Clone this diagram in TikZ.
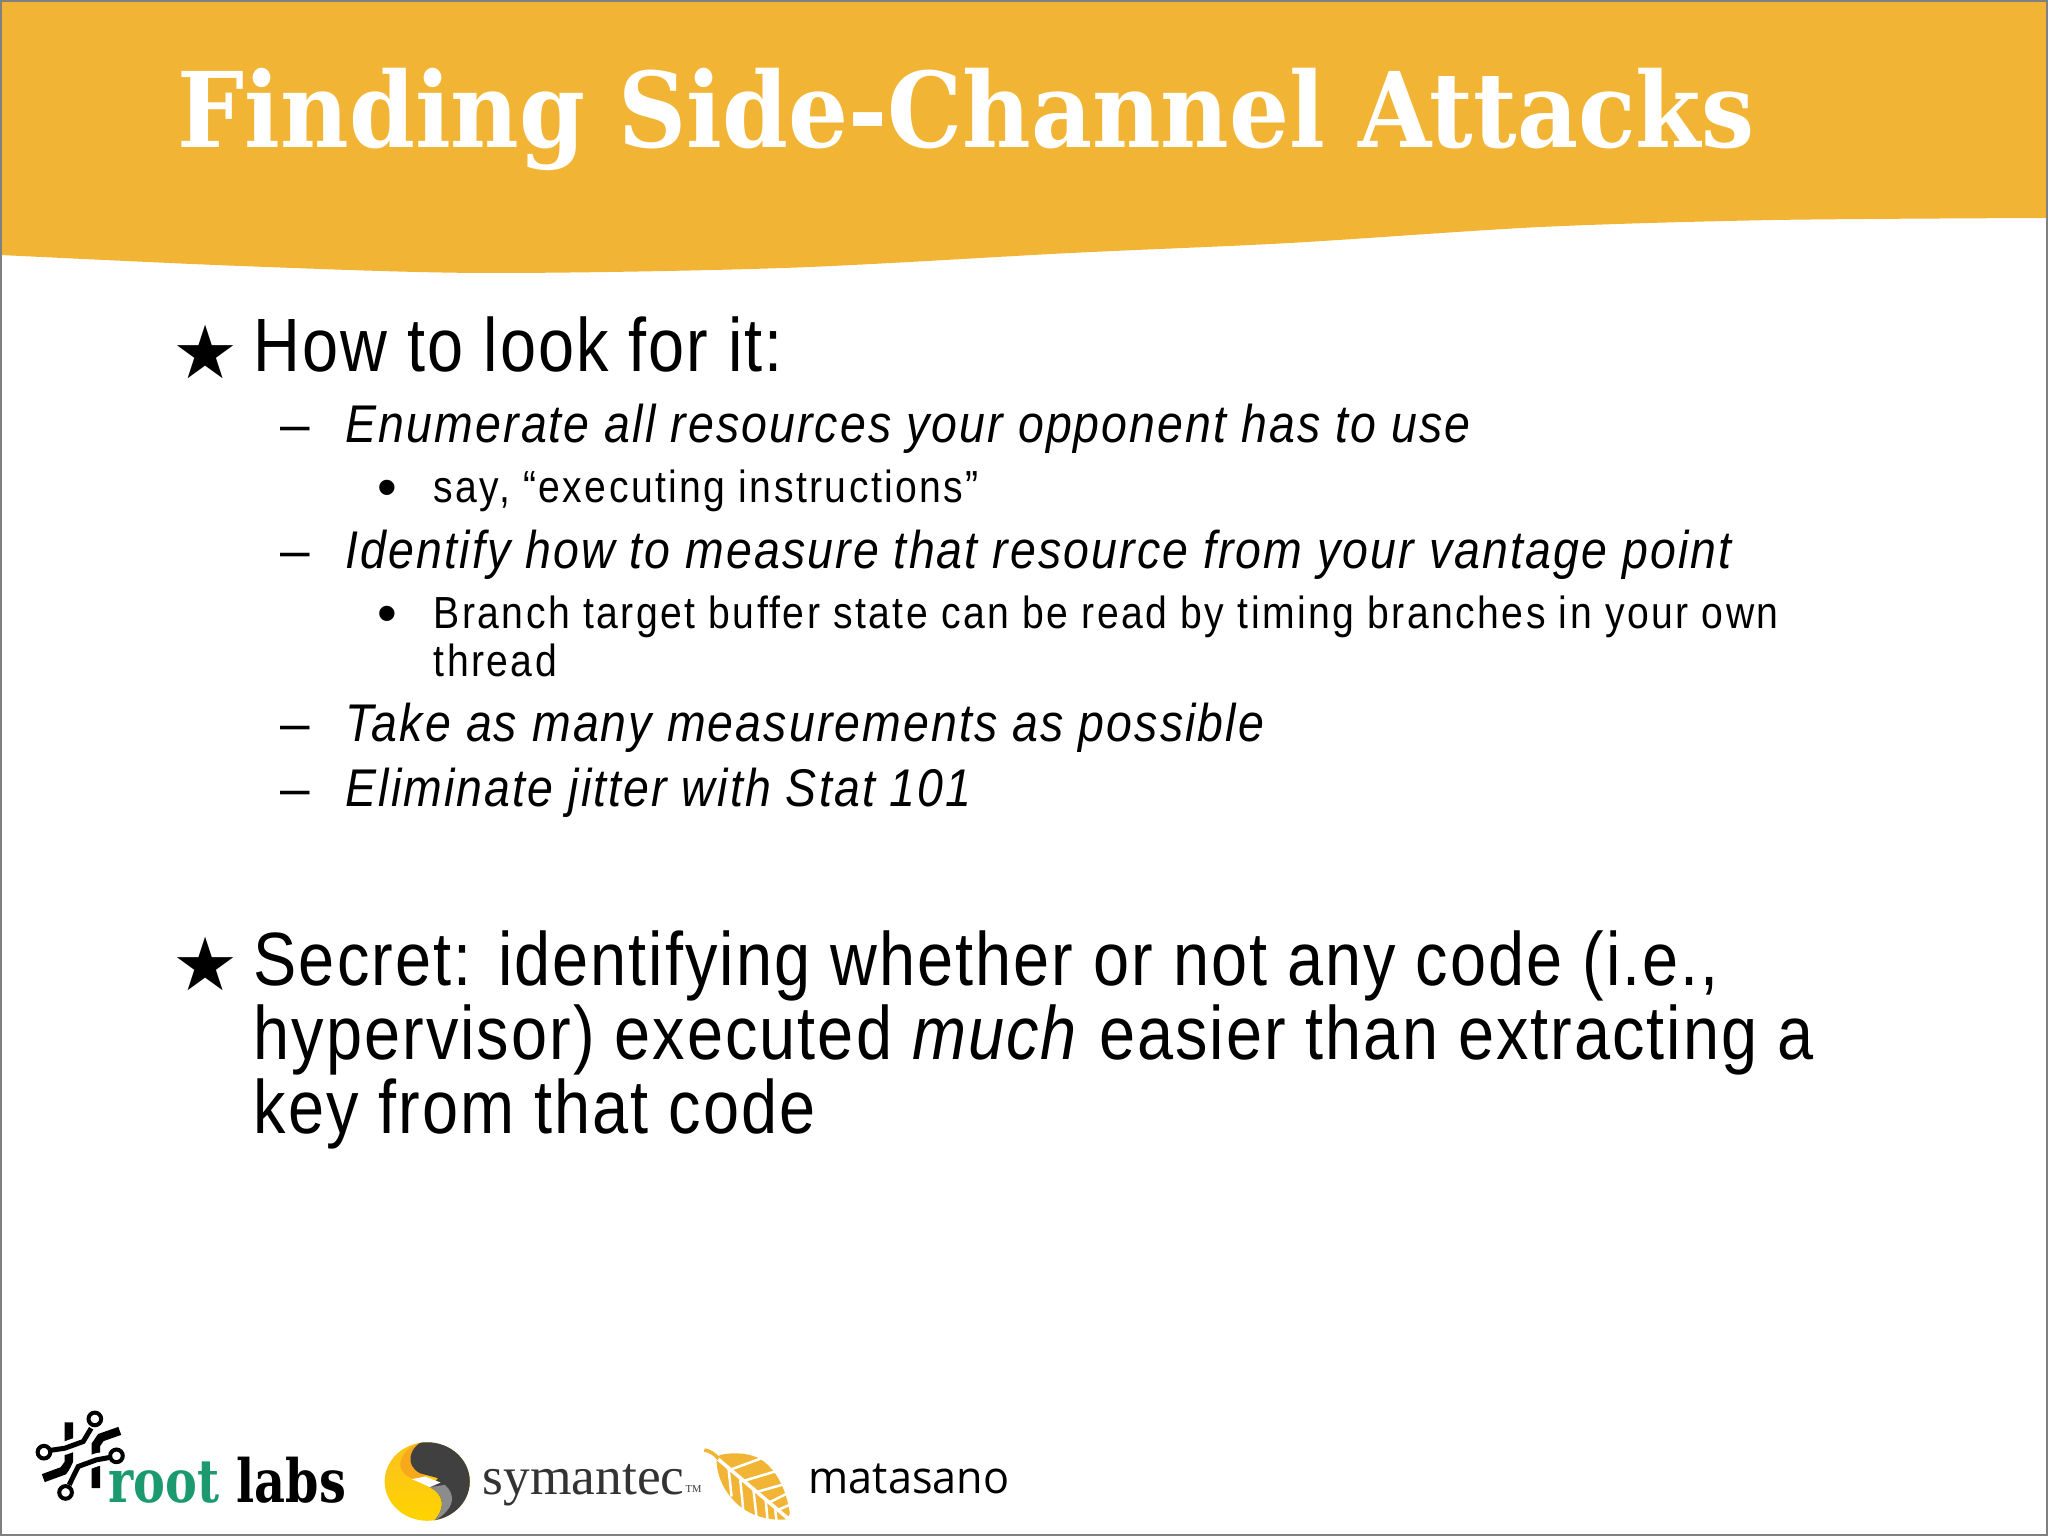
\documentclass[tikz,border=0pt]{standalone}
\usepackage{fontspec}
\setmainfont{Liberation Sans}
\newfontfamily\bigfont[FakeStretch=.858,LetterSpace=2.7]{Liberation Sans}
\newfontfamily\midfont[FakeStretch=.875,LetterSpace=4]{Liberation Sans}
\newfontfamily\smallfont[FakeStretch=.87,LetterSpace=5.4]{Liberation Sans}
\newfontfamily\titlefont[FakeStretch=.904]{DejaVu Serif Bold}
\newfontfamily\starfont{DejaVu Sans}
\newfontfamily\labsfont[FakeStretch=.8]{DejaVu Serif Bold}
\newfontfamily\symfont{Liberation Serif}
\newfontfamily\matafont[FakeStretch=.96]{Open Sans}
\definecolor{bandcol}{HTML}{F1B434}
\definecolor{labgreen}{HTML}{1A9A6E}
\definecolor{symtop}{HTML}{FBC020}
\definecolor{symmid}{HTML}{FFEA00}
\definecolor{symlow}{HTML}{FFD400}
\definecolor{symblob}{HTML}{F7A81B}
\tikzset{
	line/.style={anchor=base west, inner sep=0pt, align=left},
	bigline/.style={line, font=\bigfont\fontsize{21.5}{21}\selectfont},
	midline/.style={line, font=\midfont\fontsize{15.1}{15}\selectfont\itshape},
	smallline/.style={line, font=\smallfont\fontsize{12.8}{13.6}\selectfont},
	starmark/.style={inner sep=0pt, font=\starfont\fontsize{21}{21}\selectfont},
	dashmark/.style={anchor=base west, inner sep=0pt, font=\fontsize{15.1}{15}\selectfont},
	dotmark/.style={anchor=base, inner sep=0pt, font=\fontsize{16}{16}\selectfont},
	bar/.style={black, line width=.85mm},
	halo/.style={white, line width=1.3mm},
	trace/.style={black, line width=.5mm},
	pad/.style={black, line width=.4mm, fill=white},
}
\begin{document}
\begin{tikzpicture}
	\useasboundingbox (0,0) rectangle (20.48,15.36);
	% band
	\fill[bandcol] (0,15.36) -- (20.48,15.36) -- plot[smooth, tension=.5] coordinates {(20.48,13.18) (17.76,13.16) (15.41,13.09) (12.9,12.93) (10.71,12.83) (7.84,12.68) (4.83,12.63) (2.4,12.7) (0,12.81)} -- cycle;
	\draw[gray, line width=.4mm] (0,0) rectangle (20.48,15.36);
	\node[anchor=base west, inner sep=0pt, white, font=\titlefont\fontsize{29.7}{30}\selectfont] (title) at (1.77,13.88) {Finding Side-Channel Attacks};

	% first block
	\node[starmark] (star1) at (2.06,11.84) {★};
	\node[bigline] (howto) at (2.53,11.64) {How to look for it:};
	\node[dashmark] (dash1) at (2.8,10.93) {--};
	\node[midline] (enumerate) at (3.45,10.93) {Enumerate all resources your opponent has to use};
	\node[dotmark] (dot1) at (3.87,10.29) {•};
	\node[smallline] (say) at (4.33,10.33) {say, “executing instructions”};
	\node[dashmark] (dash2) at (2.8,9.67) {--};
	\node[midline] (identify) at (3.45,9.67) {Identify how to measure that resource from your vantage point};
	\node[dotmark] (dot2) at (3.87,9.03) {•};
	\node[smallline] (branch) at (4.33,9.07) {Branch target buffer state can be read by timing branches in your own};
	\node[smallline] (thread) at (4.33,8.59) {thread};
	\node[dashmark] (dash3) at (2.8,7.94) {--};
	\node[midline] (take) at (3.45,7.94) {Take as many measurements as possible};
	\node[dashmark] (dash4) at (2.8,7.29) {--};
	\node[midline] (eliminate) at (3.45,7.29) {Eliminate jitter with Stat 101};

	% second block
	\node[starmark] (star2) at (2.06,5.72) {★};
	\node[bigline] (secret) at (2.53,5.5) {Secret: identifying whether or not any code (i.e.,};
	\node[bigline] (hyper) at (2.53,4.76) {hypervisor) executed \textit{much} easier than extracting a};
	\node[bigline] (key) at (2.53,4.02) {key from that code};

	% root labs logo
	\begin{scope}[shift={(.2,1.41)}, x=.00333cm, y=-.00333cm]
		\draw[bar] (147,82) -- (147,205) -- (130,228) -- (70,250);
		\draw[bar] (300,108) -- (243,128) -- (228,150) -- (228,280);
		\draw[halo] (90,167) -- (135,160) -- (190,140) -- (212,100);
		\draw[halo] (272,187) -- (230,195) -- (175,215) -- (150,268);
		\draw[trace] (88,167) -- (135,160) -- (190,140) -- (214,100);
		\draw[trace] (274,187) -- (230,195) -- (175,215) -- (148,270);
		\draw[pad] (72,172) circle (19);
		\draw[pad] (225,72) circle (19);
		\draw[pad] (290,183) circle (19);
		\draw[pad] (137,293) circle (19);
	\end{scope}
	\node[anchor=base west, inner sep=0pt, labgreen, font=\labsfont\fontsize{17}{17}\selectfont] (root) at (1.08,.33) {root};
	\node[anchor=base west, inner sep=0pt, font=\labsfont\fontsize{17}{17}\selectfont] (labs) at (2.36,.33) {labs};

	% symantec logo
	\begin{scope}[shift={(3.7,1.06)}, x=.00333cm, y=-.00333cm]
		\begin{scope}
			\clip (172,155) ellipse (128 and 118);
			\shade[top color=symtop, middle color=symmid, bottom color=symlow] (40,30) rectangle (300,280);
			\fill[symblob] (160,35) .. controls (110,50) and (80,90) .. (95,120) .. controls (105,140) and (130,150) .. (150,150) -- (190,120) -- cycle;
			\fill[black!75] (165,30) .. controls (115,55) and (105,105) .. (150,130) -- (205,145) -- (180,172) .. controls (220,190) and (232,235) .. (190,275) -- (310,285) -- (310,30) -- cycle;
			\fill[black!45] (180,172) -- (225,165) .. controls (255,190) and (262,235) .. (190,275) .. controls (232,235) and (220,190) .. (180,172) -- cycle;
			\fill[white] (125,148) -- (165,140) -- (212,158) -- (180,172) .. controls (165,165) and (145,155) .. (125,148) -- cycle;
		\end{scope}
	\end{scope}
	\node[anchor=base west, inner sep=0pt, black!80, font=\symfont\fontsize{15.2}{15.2}\selectfont] (symantec) at (4.82,.41) {symantec};
	\node[anchor=base west, inner sep=0pt, black!80, font=\symfont\fontsize{3}{3}\selectfont] (tm) at (6.85,.43) {TM};

	% matasano logo
	\begin{scope}[shift={(6.95,.96)}, x=.00333cm, y=-.00333cm]
		\draw[bandcol, line width=.35mm] (28,30) .. controls (45,33) and (60,42) .. (72,58);
		\fill[bandcol] (75,45) .. controls (120,35) and (170,40) .. (200,60) .. controls (245,90) and (275,150) .. (285,220) -- (278,238) .. controls (230,245) and (170,230) .. (130,195) .. controls (90,160) and (65,110) .. (65,60) -- cycle;
		\draw[white, line width=.35mm] (70,58) -- (282,238);
		\foreach \a/\b/\c/\d in {110/88/200/55, 150/122/240/95, 190/155/268/133, 225/187/275/162, 250/210/285/195, 100/78/110/170, 135/108/145/210, 175/143/185/232, 212/175/218/240, 240/200/245/242}
			\draw[white, line width=.25mm] (\a,\b) -- (\c,\d);
	\end{scope}
	\node[anchor=base west, inner sep=0pt, font=\matafont\fontsize{12.8}{13}\selectfont] (matasano) at (8.08,.42) {matasano};
\end{tikzpicture}
\end{document}
